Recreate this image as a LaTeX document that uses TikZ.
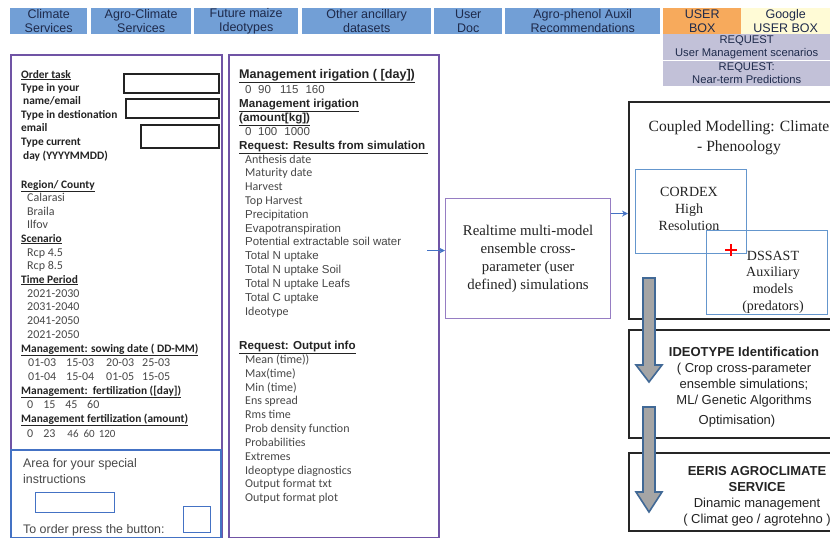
\documentclass[tikz,border=0pt]{standalone}
\usepackage{fontspec}
\setmainfont{Liberation Sans}
\newfontfamily\calf{Carlito}
\newfontfamily\serf{Liberation Serif}
\usetikzlibrary{arrows.meta}
\definecolor{tabblue}{RGB}{114,159,214}
\definecolor{tabtext}{RGB}{30,42,75}
\definecolor{orng}{RGB}{247,170,92}
\definecolor{gyel}{RGB}{255,251,214}
\definecolor{lav}{RGB}{194,193,216}
\definecolor{purp}{RGB}{112,84,165}
\definecolor{lpurp}{RGB}{150,125,195}
\definecolor{bblue}{RGB}{68,114,196}
\definecolor{cblue}{RGB}{100,150,205}
\definecolor{darr}{RGB}{65,105,150}
\definecolor{garr}{RGB}{165,165,165}
\definecolor{txtg}{RGB}{72,72,72}
\definecolor{txtd}{RGB}{35,35,35}
\tikzset{
  tab/.style={fill=tabblue, minimum height=26pt, inner sep=0pt, anchor=north west, align=center,
    text=tabtext, font=\fontsize{12.5}{14}\selectfont},
  req/.style={fill=lav, minimum width=167pt, minimum height=26pt, inner sep=0pt, anchor=north west,
    align=center, text=tabtext, font=\fontsize{11.2}{13}\selectfont},
  panel/.style={draw=purp, line width=1.8pt, inner sep=0pt, anchor=north west},
  inbox/.style={draw=txtd, line width=1.5pt, inner sep=0pt, anchor=north west},
  bbox/.style={draw=bblue, line width=1.6pt, inner sep=0pt, anchor=north west},
  blk/.style={draw=black!85, line width=1.8pt, inner sep=0pt, anchor=north west},
  cbox/.style={draw=cblue, line width=1pt, inner sep=0pt, anchor=north west},
  lh/.style={anchor=base west, yshift=-4pt, inner sep=0pt, text=txtd, font=\calf\bfseries\fontsize{11.4}{13}\selectfont},
  li/.style={anchor=base west, yshift=-4pt, inner sep=0pt, text=txtg, font=\calf\fontsize{12}{13}\selectfont},
  mh/.style={anchor=base west, yshift=-4pt, inner sep=0pt, text=txtd, font=\bfseries\fontsize{11.6}{13}\selectfont},
  mi/.style={anchor=base west, yshift=-4pt, inner sep=0pt, text=txtg, font=\fontsize{11.5}{13}\selectfont},
  mc/.style={anchor=base west, yshift=-4pt, inner sep=0pt, text=txtg, font=\calf\fontsize{12}{13}\selectfont},
  sp/.style={anchor=base west, yshift=-4.5pt, inner sep=0pt, text=txtg, font=\fontsize{12.4}{14}\selectfont},
  conn/.style={draw=bblue, line width=1pt, -{Stealth[length=6pt,width=6pt]}},
  barrow/.style={fill=garr, draw=darr, line width=1.6pt, line join=miter}
}
\begin{document}
\begin{tikzpicture}[x=1pt,y=-1pt]
\useasboundingbox (0,0) rectangle (830,538);
\fill[white] (0,0) rectangle (830,538);

% top tabs
\node[tab, minimum width=77pt]  (t1) at (10,8)  {Climate\\Services};
\node[tab, minimum width=100pt] (t2) at (91,8)  {Agro-Climate\\Services};
\node[tab, minimum width=104pt] (t3) at (194,8) {Future maize\\Ideotypes};
\node[tab, minimum width=129pt] (t4) at (302,8) {Other ancillary\\datasets};
\node[tab, minimum width=68pt]  (t5) at (434,8) {User\\Doc};
\node[tab, minimum width=155pt] (t6) at (505,8) {Agro-phenol Auxil\\Recommendations};
\node[tab, fill=orng, minimum width=78pt] (t7) at (663,8) {USER\\BOX};
\node[tab, fill=gyel, minimum width=89pt] (t8) at (741,8) {Google\\USER BOX};
\node[req] (r1) at (663,34) {REQUEST\\User Management scenarios};
\node[req] (r2) at (663,60) {REQUEST:\\Near-term Predictions};
\draw[white, line width=0.8pt] (r2.north west) -- (r2.north east);

% left panel
\node[panel, minimum width=211pt, minimum height=483pt] (lp) at (10,54) {};
\node[inbox, minimum width=95pt, minimum height=19pt] (b1) at (123,73) {};
\node[inbox, minimum width=93pt, minimum height=19pt] (b2) at (125,98) {};
\node[inbox, minimum width=78pt, minimum height=23pt] (b3) at (140,124) {};

\node[lh] (o1) at (21,74) {\underline{Order task}};
\node[lh] (o2) at (21,87) {Type in your};
\node[lh] (o3) at (23,100) {name/email};
\node[lh] (o4) at (21,114) {Type in destionation};
\node[lh] (o5) at (21,127) {email};
\node[lh] (o6) at (21,141) {Type current};
\node[lh] (o7) at (23,155) {day (YYYYMMDD)};
\node[lh] (o8) at (21,184) {\underline{Region/ County}};
\node[li] (o9) at (27,197) {Calarasi};
\node[li] (o10) at (27,211) {Braila};
\node[li] (o11) at (27,224) {Ilfov};
\node[lh] (o12) at (21,238) {\underline{Scenario}};
\node[li] (o13) at (27,252) {Rcp 4.5};
\node[li] (o14) at (27,265) {Rcp 8.5};
\node[lh] (o15) at (21,279) {\underline{Time Period}};
\node[li] (o16) at (27,293) {2021-2030};
\node[li] (o17) at (27,306) {2031-2040};
\node[li] (o18) at (27,320) {2041-2050};
\node[li] (o19) at (27,334) {2021-2050};
\node[lh] (o20) at (21,348) {\underline{Management: sowing date ( DD-MM)}};
\node[li] (o21) at (28,362) {01-03\hspace{10pt}15-03\hspace{12pt}20-03\hspace{8pt}25-03};
\node[li] (o22) at (28,376) {01-04\hspace{10pt}15-04\hspace{12pt}01-05\hspace{8pt}15-05};
\node[lh] (o23) at (21,390) {\underline{Management:\ \ fertilization ([day])}};
\node[li] (o24) at (27,404) {0\hspace{10pt}15\hspace{9.8pt}45\hspace{9.8pt}60};
\node[lh] (o25) at (21,418) {\underline{Management fertilization (amount)}};
\node[li] (o26) at (27,433) {0\hspace{10pt}23\hspace{12pt}{\fontsize{11}{12}\selectfont 46\hspace{5pt}60\hspace{4pt}120}};

% special instructions box
\node[bbox, minimum width=210pt, minimum height=88pt] (spec) at (10,449) {};
\node[sp] (s1) at (23,463) {Area for your special};
\node[sp] (s2) at (23,479) {instructions};
\node[bbox, line width=1.4pt, minimum width=79pt, minimum height=20pt] (sb) at (35,492) {};
\node[sp] (s3) at (23,529) {To order press the button:};
\node[bbox, line width=1.4pt, minimum width=27pt, minimum height=26pt] (btn) at (183,506) {};

% middle panel
\node[panel, minimum width=210pt, minimum height=483pt] (mp) at (228,54) {};
\node[mh, font=\bfseries\fontsize{12.6}{14}\selectfont] (m1) at (239,74) {\underline{Management irigation ( [day])}};
\node[mi] (m2) at (245,89) {0\hspace{6.6pt}90\hspace{9.2pt}115\hspace{7pt}160};
\node[mh] (m3) at (239,103) {\underline{Management irigation}};
\node[mh] (m4) at (239,117) {\underline{(amount[kg])}};
\node[mi] (m5) at (245,131) {0\hspace{6.6pt}100\hspace{7pt}1000};
\node[mh] (m6) at (239,145) {\underline{Request: Results from simulation\ }};
\node[mc] (m7) at (245,159) {Anthesis date};
\node[mc] (m8) at (245,172) {Maturity date};
\node[mc] (m9) at (245,186) {Harvest};
\node[mc] (m10) at (245,200) {Top Harvest};
\node[mi] (m11) at (245,214) {Precipitation};
\node[mi] (m12) at (245,228) {Evapotranspiration};
\node[mi] (m13) at (245,241) {Potential extractable soil water};
\node[mi] (m14) at (245,255) {Total N uptake};
\node[mi] (m15) at (245,269) {Total N uptake Soil};
\node[mi] (m16) at (245,283) {Total N uptake Leafs};
\node[mi] (m17) at (245,297) {Total C uptake};
\node[mc] (m18) at (245,311) {Ideotype};
\node[mh] (m19) at (239,345) {\underline{Request: Output info}};
\node[mc] (m20) at (245,359) {Mean (time))};
\node[mc] (m21) at (245,373) {Max(time)};
\node[mc] (m22) at (245,387) {Min (time)};
\node[mc] (m23) at (245,400) {Ens spread};
\node[mc] (m24) at (245,414) {Rms time};
\node[mc] (m25) at (245,428) {Prob density function};
\node[mc] (m26) at (245,442) {Probabilities};
\node[mc] (m27) at (245,456) {Extremes};
\node[mc] (m28) at (245,470) {Ideoptype diagnostics};
\node[mc] (m29) at (245,483) {Output format txt};
\node[mc] (m30) at (245,497) {Output format plot};

% realtime box
\node[draw=lpurp, line width=1.2pt, inner sep=0pt, anchor=north west, minimum width=165pt, minimum height=120pt,
      align=center, text=txtd, font=\serf\fontsize{14.8}{18}\selectfont] (rt) at (445,198)
      {Realtime multi-model\\ensemble cross-\\parameter (user\\defined) simulations};

% right column boxes
\node[blk, minimum width=206pt, minimum height=217pt] (cp) at (628,101) {};
\node[align=center, text=txtd, inner sep=0pt, font=\serf\fontsize{15.6}{20}\selectfont] (cpt) at (739,138)
      {Coupled Modelling: Climate\\- Phenoology};
\node[cbox, minimum width=111pt, minimum height=84pt] (cx) at (635,169) {};
\node[align=center, text=txtd, inner sep=0pt, font=\serf\fontsize{14}{17}\selectfont] (cxt) at (689,209)
      {CORDEX\\High\\Resolution};
\node[cbox, minimum width=121pt, minimum height=84pt] (ds) at (706,230) {};
\node[align=center, text=txtd, inner sep=0pt, font=\serf\fontsize{14}{16.7}\selectfont] (dst) at (773,282)
      {DSSAST\\Auxiliary\\models\\(predators)};
\draw[red, line width=1.5pt] (725,250) -- (737,250) (731,244) -- (731,256);

\node[blk, minimum width=206pt, minimum height=108pt] (id) at (628,329) {};
\node[align=center, text=txtd, inner sep=0pt, font=\fontsize{13}{16}\selectfont] (idt) at (744,377)
      {\textbf{IDEOTYPE Identification}\\( Crop cross-parameter\\ensemble simulations;\\ML/ Genetic Algorithms};
\node[text=txtd, inner sep=0pt, font=\fontsize{13}{16}\selectfont] (idt2) at (737,421) {Optimisation)};

\node[blk, minimum width=206pt, minimum height=78pt] (ee) at (628,452) {};
\node[align=center, text=txtd, inner sep=0pt, font=\fontsize{13}{16}\selectfont] (eet) at (757,496)
      {\textbf{EERIS AGROCLIMATE}\\\textbf{SERVICE}\\Dinamic management\\( Climat geo / agrotehno )};

% block arrows
\path[barrow] (643,278) -- (655,278) -- (655,365) -- (662,365) -- (649,382) -- (636,365) -- (643,365) -- cycle;
\path[barrow] (643,407) -- (655,407) -- (655,492) -- (662,492) -- (649,512) -- (636,492) -- (643,492) -- cycle;

% connectors
\coordinate (a1) at ([xshift=-18pt,yshift=8pt]rt.west);
\draw[conn] (a1) -- ([yshift=8pt]rt.west);
\draw[conn] ([yshift=45pt]rt.east) -- ([yshift=45pt]rt.east -| cp.west);
\end{tikzpicture}
\end{document}
